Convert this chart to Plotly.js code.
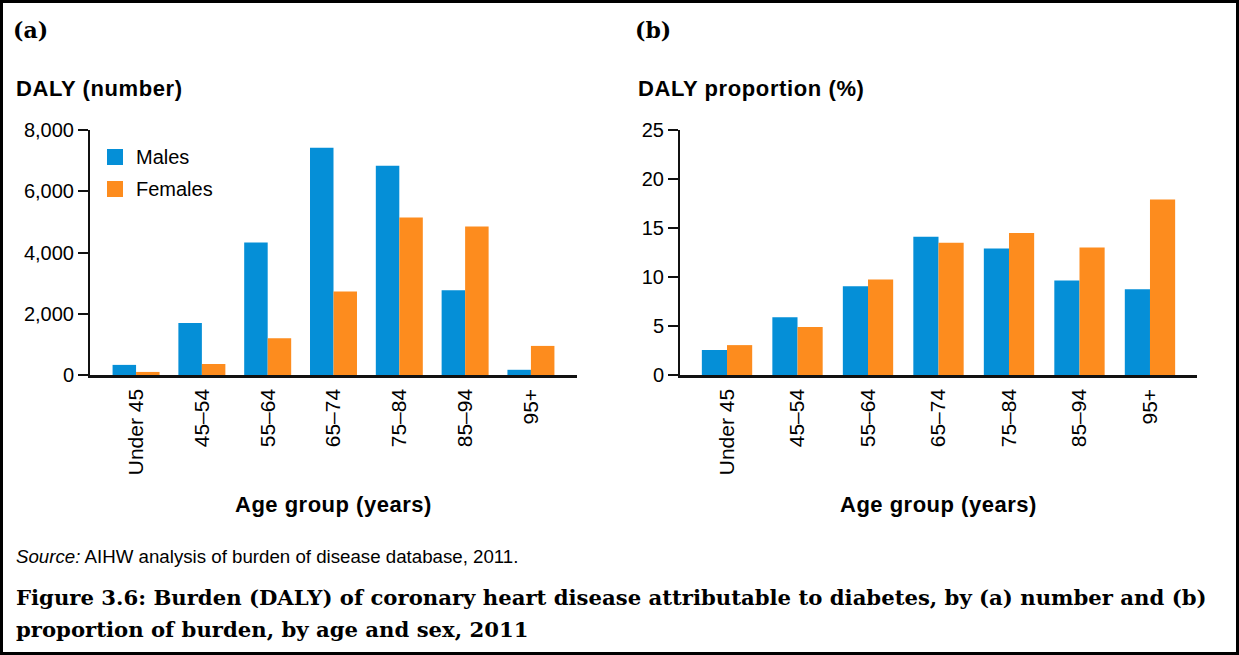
<!DOCTYPE html>
<html>
<head>
<meta charset="utf-8">
<script src="https://cdn.plot.ly/plotly-3.0.1.min.js"></script>
<style>
  html, body { margin: 0; padding: 0; background: #fff; }
  #wrap { position: relative; width: 1239px; height: 655px; }
  #chart { width: 1239px; height: 655px; }
  #frame { position: absolute; left: 0; top: 0; width: 1239px; height: 655px; box-sizing: border-box; border: 3px solid #000; pointer-events: none; }
  .annotation[data-index="2"] .annotation-text,
  .annotation[data-index="3"] .annotation-text { letter-spacing: 0.6px; }
  .annotation[data-index="4"] .annotation-text,
  .annotation[data-index="5"] .annotation-text { letter-spacing: 0.5px; }
</style>
</head>
<body>
<div id="wrap">
  <div id="chart"></div>
  <div id="frame"></div>
</div>
<script>
// ---- data ----
var ageGroups = ["Under 45", "45\u201354", "55\u201364", "65\u201374", "75\u201384", "85\u201394", "95+"];
var dalyMales = [330, 1700, 4330, 7420, 6830, 2770, 170];
var dalyFemales = [100, 360, 1200, 2730, 5140, 4850, 950];
var propMales = [2.55, 5.9, 9.05, 14.1, 12.9, 9.65, 8.75];
var propFemales = [3.05, 4.9, 9.75, 13.5, 14.5, 13.0, 17.9];
var seriesNames = ["Males", "Females"];

var BLUE = "#058fd7";
var ORANGE = "#fd8c1e";
var SANS = "Liberation Sans, Arial, sans-serif";
var SERIF = "DejaVu Serif, serif";

var W = 1239, H = 655;
function px(x) { return x / W; }
function py(y) { return 1 - y / H; }

var traces = [
  { type: "bar", name: seriesNames[0], x: ageGroups, y: dalyMales, marker: { color: BLUE }, xaxis: "x", yaxis: "y" },
  { type: "bar", name: seriesNames[1], x: ageGroups, y: dalyFemales, marker: { color: ORANGE }, xaxis: "x", yaxis: "y" },
  { type: "bar", name: seriesNames[0], x: ageGroups, y: propMales, marker: { color: BLUE }, xaxis: "x2", yaxis: "y2" },
  { type: "bar", name: seriesNames[1], x: ageGroups, y: propFemales, marker: { color: ORANGE }, xaxis: "x2", yaxis: "y2" }
];

var xCommon = {
  type: "category", showline: true, linecolor: "#111", linewidth: 2.5, ticks: "",
  tickangle: -90, tickfont: { family: SANS, size: 21, color: "#000" }, ticklabelstandoff: 3,
  showgrid: false, zeroline: false, fixedrange: true
};
var yCommon = {
  showline: true, linecolor: "#111", linewidth: 2, ticks: "outside", ticklen: 10,
  tickwidth: 2, tickcolor: "#111", tickfont: { family: SANS, size: 20, color: "#000" },
  showgrid: false, zeroline: false, fixedrange: true
};

function note(text, x, y, font) {
  return { text: text, x: px(x), y: py(y), xref: "paper", yref: "paper", xanchor: "left", yanchor: "middle", align: "left", showarrow: false, font: font };
}
function swatch(x0, y0, color) {
  return { type: "rect", xref: "paper", yref: "paper", x0: px(x0), x1: px(x0 + 16), y0: py(y0 + 16), y1: py(y0), fillcolor: color, line: { width: 0 } };
}

var layout = {
  width: W, height: H,
  margin: { l: 0, r: 0, t: 0, b: 0 },
  paper_bgcolor: "#fff", plot_bgcolor: "#fff",
  barmode: "group", bargap: 0.286, bargroupgap: 0,
  showlegend: false,
  xaxis: Object.assign({}, xCommon, { domain: [px(90), px(577)], range: [-0.7, 6.7], anchor: "y" }),
  yaxis: Object.assign({}, yCommon, { domain: [py(375), py(130)], range: [0, 8000], dtick: 2000, tickformat: ",d", anchor: "x" }),
  xaxis2: Object.assign({}, xCommon, { domain: [px(680), px(1197)], range: [-0.667, 6.667], anchor: "y2" }),
  yaxis2: Object.assign({}, yCommon, { domain: [py(375), py(130)], range: [0, 25], dtick: 5, anchor: "x2" }),
  shapes: [ swatch(107, 149, BLUE), swatch(107, 181, ORANGE) ],
  annotations: [
    note("<b>(a)</b>", 11, 30, { family: SERIF, size: 22, color: "#000" }),
    note("<b>(b)</b>", 633, 30, { family: SERIF, size: 22, color: "#000" }),
    note("<b>DALY (number)</b>", 14, 89, { family: SANS, size: 22, color: "#000" }),
    note("<b>DALY proportion (%)</b>", 636, 89, { family: SANS, size: 22, color: "#000" }),
    note("<b>Age group (years)</b>", 233, 505, { family: SANS, size: 22, color: "#000" }),
    note("<b>Age group (years)</b>", 838, 505, { family: SANS, size: 22, color: "#000" }),
    note("<i>Source:</i> AIHW analysis of burden of disease database, 2011.", 14, 556, { family: SANS, size: 18.7, color: "#000" }),
    note("<b>Figure 3.6: Burden (DALY) of coronary heart disease attributable to diabetes, by (a) number and (b)</b>", 14, 597, { family: SERIF, size: 21.2, color: "#000" }),
    note("<b>proportion of burden, by age and sex, 2011</b>", 14, 629, { family: SERIF, size: 21.2, color: "#000" }),
    note(seriesNames[0], 134, 157, { family: SANS, size: 20, color: "#000" }),
    note(seriesNames[1], 134, 189, { family: SANS, size: 20, color: "#000" })
  ]
};

Plotly.newPlot("chart", traces, layout, { staticPlot: true, displayModeBar: false });
</script>
</body>
</html>
